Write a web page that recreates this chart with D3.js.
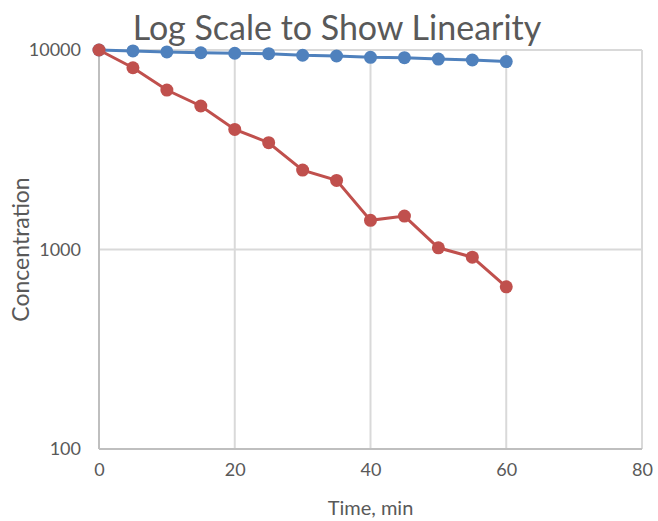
<!DOCTYPE html>
<html>
<head>
<meta charset="utf-8">
<script src="https://cdn.jsdelivr.net/npm/d3@7"></script>
<style>
  body { margin: 0; background: white; }
  text { font-family: Lato, "Open Sans", sans-serif; fill: #595959; }
</style>
</head>
<body>
<svg id="chart" width="658" height="521"></svg>
<script>
const times = [0, 5, 10, 15, 20, 25, 30, 35, 40, 45, 50, 55, 60];
const slowSeries = [10000, 9890, 9780, 9690, 9630, 9580, 9410, 9330, 9190, 9150, 9010, 8910, 8750];
const fastSeries = [10000, 8150, 6300, 5240, 4000, 3430, 2500, 2220, 1400, 1470, 1020, 915, 650];
const xTicks = [0, 20, 40, 60, 80];
const yTicks = [100, 1000, 10000];

const svg = d3.select("#chart");
const margin = { left: 99, right: 16, top: 50, bottom: 72 };
const width = 658, height = 521;

const x = d3.scaleLinear().domain([0, 80]).range([margin.left, width - margin.right]);
const y = d3.scaleLog().domain([100, 10000]).range([height - margin.bottom, margin.top]);

// grid
svg.append("g").selectAll("line")
    .data(xTicks.slice(1))
    .enter().append("line")
    .attr("x1", d => x(d)).attr("x2", d => x(d))
    .attr("y1", y(100)).attr("y2", y(10000))
    .attr("stroke", "#d9d9d9").attr("stroke-width", 2);

svg.append("g").selectAll("line")
    .data(yTicks.slice(1))
    .enter().append("line")
    .attr("x1", x(0)).attr("x2", x(80))
    .attr("y1", d => y(d)).attr("y2", d => y(d))
    .attr("stroke", "#d9d9d9").attr("stroke-width", 2);

// axis lines
svg.append("line")
    .attr("x1", x(0)).attr("x2", x(80))
    .attr("y1", y(100)).attr("y2", y(100))
    .attr("stroke", "#bfbfbf").attr("stroke-width", 2);
svg.append("line")
    .attr("x1", x(0)).attr("x2", x(0))
    .attr("y1", y(100)).attr("y2", y(10000))
    .attr("stroke", "#bfbfbf").attr("stroke-width", 2);

// tick labels
const xAxis = d3.axisBottom(x).tickValues(xTicks).tickSize(0).tickPadding(14);
const gx = svg.append("g").attr("transform", `translate(0,${y(100)})`).call(xAxis);
gx.select(".domain").remove();
gx.selectAll("text").attr("font-size", 18).attr("font-family", null).attr("fill", null);

const yAxis = d3.axisLeft(y).tickValues(yTicks).tickFormat(d3.format("d")).tickSize(0).tickPadding(18);
const gy = svg.append("g").attr("transform", `translate(${x(0)},0)`).call(yAxis);
gy.select(".domain").remove();
gy.selectAll("text").attr("font-size", 18).attr("font-family", null).attr("fill", null);

// series
const series = [
    { values: slowSeries, color: "#4f81bd" },
    { values: fastSeries, color: "#c0504d" }
];

const line = d3.line()
    .x((d, i) => x(times[i]))
    .y(d => y(d));

series.forEach(s => {
    svg.append("path")
        .datum(s.values)
        .attr("fill", "none")
        .attr("stroke", s.color)
        .attr("stroke-width", 3)
        .attr("d", line);
    svg.append("g").selectAll("circle")
        .data(s.values)
        .enter().append("circle")
        .attr("cx", (d, i) => x(times[i]))
        .attr("cy", d => y(d))
        .attr("r", 6.5)
        .attr("fill", s.color);
});

// titles
svg.append("text")
    .attr("x", 337).attr("y", 40)
    .attr("text-anchor", "middle")
    .attr("font-size", 34)
    .text("Log Scale to Show Linearity");

svg.append("text")
    .attr("x", x(40)).attr("y", 515)
    .attr("text-anchor", "middle")
    .attr("font-size", 20)
    .text("Time, min");

svg.append("text")
    .attr("transform", `translate(29,${(y(100) + y(10000)) / 2}) rotate(-90)`)
    .attr("text-anchor", "middle")
    .attr("font-size", 23)
    .text("Concentration");
</script>
</body>
</html>
